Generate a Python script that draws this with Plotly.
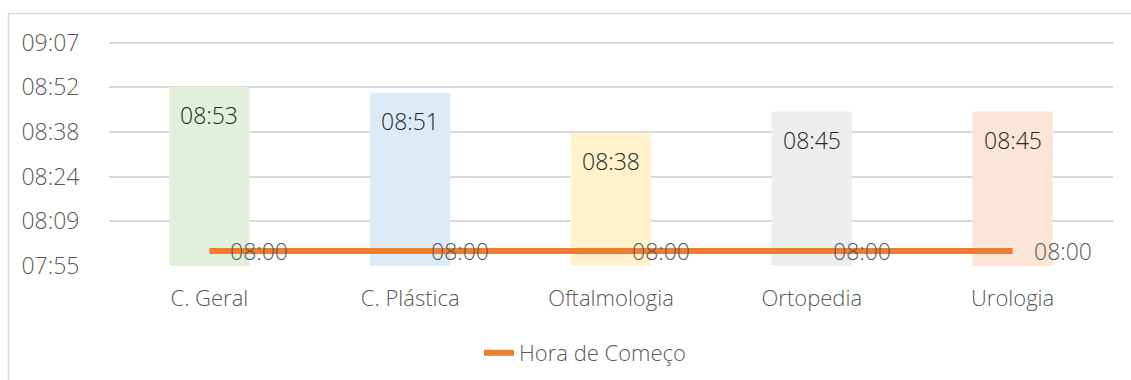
import plotly.graph_objects as go

# Specialty names and recorded times (minutes are read as HH:MM)
especialidades = ["C. Geral", "C. Plástica", "Oftalmologia", "Ortopedia", "Urologia"]
hora_media = ["08:53", "08:51", "08:38", "08:45", "08:45"]
hora_comeco = ["08:00", "08:00", "08:00", "08:00", "08:00"]
cores_barras = ["#E2EFDA", "#DDEBF7", "#FFF2CC", "#EDEDED", "#FBE5D6"]

# Y axis ticks at 0.33 .. 0.38 of a day, shown as truncated HH:MM
tick_dias = [0.33, 0.34, 0.35, 0.36, 0.37, 0.38]
tick_labels = ["07:55", "08:09", "08:24", "08:38", "08:52", "09:07"]


def para_minutos(hhmm):
    h, m = hhmm.split(":")
    return int(h) * 60 + int(m)


y_barras = [para_minutos(t) for t in hora_media]
y_linha = [para_minutos(t) for t in hora_comeco]
tick_vals = [d * 24 * 60 for d in tick_dias]

# headroom (minutes) so the top gridline is not dropped at the axis edge
FOLGA = 1.5
PX_POR_MIN = 223.6 / (tick_vals[-1] - tick_vals[0])

W, H = 1131, 380
ML, MR, MB = 109, 18, 114
MT = round(42.7 - FOLGA * PX_POR_MIN)
plot_w = W - ML - MR
plot_h = H - MT - MB

FONT = "Open Sans"
CINZA = "#595959"
PESO = 300

fig = go.Figure()

fig.add_trace(go.Bar(
    x=especialidades,
    y=y_barras,
    marker=dict(color=cores_barras, line=dict(width=0)),
    width=0.4,
    showlegend=False,
    hoverinfo="skip",
))

fig.add_trace(go.Scatter(
    x=especialidades,
    y=y_linha,
    mode="lines",
    name="Hora de Começo",
    line=dict(color="#ED7D31", width=6),
    hoverinfo="skip",
))

anotacoes = []
for cat, val, txt in zip(especialidades, y_barras, hora_media):
    anotacoes.append(dict(
        x=cat, y=val, text=txt, showarrow=False,
        xanchor="center", yanchor="top", yshift=-10,
        font=dict(family=FONT, size=23, color="#262626", weight=PESO),
    ))
for cat, val, txt in zip(especialidades, y_linha, hora_comeco):
    anotacoes.append(dict(
        x=cat, y=val, text=txt, showarrow=False,
        xanchor="left", yanchor="middle", xshift=19,
        font=dict(family=FONT, size=23, color=CINZA, weight=PESO),
    ))

# Outer chart frame (left and top edges visible)
px_x = lambda p: (p - ML) / plot_w
px_y = lambda p: (H - MB - p) / plot_h

faixa_y = [tick_vals[0], tick_vals[-1] + FOLGA]

fig.update_layout(
    width=W, height=H,
    margin=dict(l=ML, r=MR, t=MT, b=MB, autoexpand=False),
    paper_bgcolor="white",
    plot_bgcolor="white",
    font=dict(family=FONT, size=22, color=CINZA, weight=PESO),
    bargap=0.6,
    annotations=anotacoes,
    shapes=[dict(
        type="rect", xref="paper", yref="paper",
        x0=px_x(8.5), x1=px_x(W + 20), y0=px_y(H + 20), y1=px_y(13.5),
        line=dict(color="#D9D9D9", width=1.5), fillcolor="rgba(0,0,0,0)",
        layer="below",
    )],
    xaxis=dict(
        showgrid=False, zeroline=False, showline=False,
        ticks="outside", ticklen=13, tickcolor="rgba(0,0,0,0)",
        tickfont=dict(family=FONT, size=22, color=CINZA, weight=PESO),
        fixedrange=True,
    ),
    yaxis=dict(
        range=faixa_y,
        tickvals=tick_vals, ticktext=tick_labels,
        showgrid=True, gridcolor="#D9D9D9", gridwidth=1.5,
        zeroline=False, showline=False,
        ticks="outside", ticklen=24, tickcolor="rgba(0,0,0,0)",
        tickfont=dict(family=FONT, size=23, color=CINZA, weight=PESO),
        fixedrange=True,
    ),
    showlegend=True,
    legend=dict(
        orientation="h",
        xref="container", yref="container",
        x=479 / W, xanchor="left",
        y=1 - 353 / H, yanchor="middle",
        font=dict(family=FONT, size=22, color=CINZA, weight=PESO),
        bgcolor="rgba(0,0,0,0)",
    ),
)

fig.write_html("out.html")
